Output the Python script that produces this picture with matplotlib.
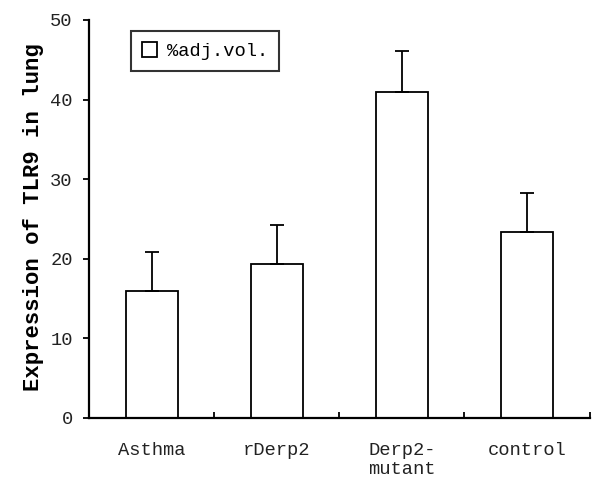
import numpy as np
import matplotlib
matplotlib.use('Agg')
import matplotlib.pyplot as plt
from matplotlib.patches import Patch

groups = ['Asthma', 'rDerp2', 'Derp2-\nmutant', 'control']
values = [16.0, 19.4, 40.9, 23.4]
errors = [4.9, 4.9, 5.2, 4.9]
y_ticks = [0, 10, 20, 30, 40, 50]
legend_label = '%adj.vol.'
y_title = 'Expression of TLR9 in lung'

plt.rcParams['font.family'] = ['Liberation Mono', 'DejaVu Sans Mono']

fig = plt.figure(figsize=(6, 4.83), dpi=100)
ax = fig.add_axes([0.149, 0.1346, 0.8335, 0.824])

x = np.arange(len(groups))
ax.bar(x, values, width=0.41, color='white', edgecolor='black', linewidth=1.3, zorder=2)
ax.errorbar(x, values, yerr=[np.zeros(len(errors)), errors], fmt='none',
            ecolor='black', elinewidth=1.3, capsize=4.8, capthick=1.3, zorder=3)

ax.set_xlim(-0.5, len(groups) - 0.5)
ax.set_ylim(0, 50)
ax.set_yticks(y_ticks)
ax.set_xticks(x)
ax.set_xticklabels(groups, fontsize=13.5, color='#222222')
ax.set_xticks(np.arange(len(groups) + 1) - 0.5, minor=True)
ax.tick_params(axis='x', which='major', length=0, pad=17)
ax.tick_params(axis='x', which='minor', direction='in', length=4, width=1.3)
ax.tick_params(axis='y', which='major', direction='out', length=4, width=1.3,
               pad=8, labelsize=13.5, labelcolor='#222222')

for side in ['top', 'right']:
    ax.spines[side].set_visible(False)
for side in ['left', 'bottom']:
    ax.spines[side].set_linewidth(1.6)

ax.set_ylabel(y_title, fontsize=16, fontweight='bold')
ax.yaxis.set_label_coords(-0.09, 0.505)

handle = Patch(facecolor='white', edgecolor='black', linewidth=1.3)
leg = ax.legend([handle], [legend_label], loc='upper left',
                bbox_to_anchor=(0.083, 0.972), borderaxespad=0,
                fancybox=False, fontsize=13.5, handlelength=0.8,
                handleheight=0.8, handletextpad=0.5, borderpad=0.6)
leg.get_frame().set_edgecolor('black')
leg.get_frame().set_linewidth(1.5)

fig.savefig('out.png', dpi=100)
